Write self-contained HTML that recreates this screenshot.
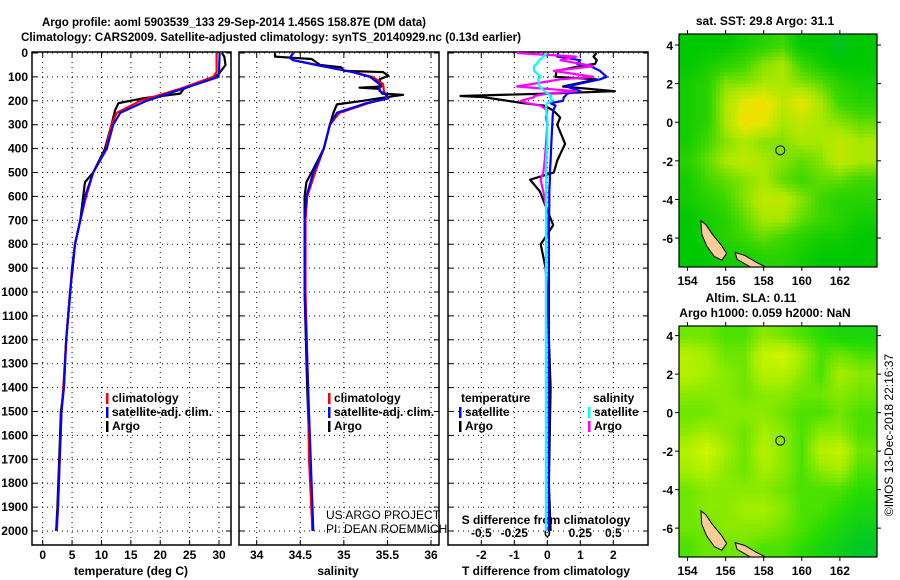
<!DOCTYPE html>
<html><head><meta charset="utf-8"><style>
body{margin:0;background:#fff;}
svg{display:block;font-family:"Liberation Sans",sans-serif;}
text{font-weight:bold;font-size:12px;fill:#000;}
</style></head><body>
<svg id="fig" width="900" height="580" viewBox="0 0 900 580">
<text x="42" y="26" font-size="14" textLength="384" lengthAdjust="spacingAndGlyphs">Argo profile: aoml 5903539_133 29-Sep-2014 1.456S 158.87E (DM data)</text>
<text x="21" y="41" font-size="14" textLength="500" lengthAdjust="spacingAndGlyphs">Climatology: CARS2009. Satellite-adjusted climatology: synTS_20140929.nc (0.13d earlier)</text>
<g id="g1"></g>
<g id="g2"></g>
<g id="g3"></g>
<g id="m1"></g>
<g id="m2"></g>
<text x="765" y="25" text-anchor="middle">sat. SST: 29.8 Argo: 31.1</text>
<text x="751" y="302" text-anchor="middle">Altim. SLA: 0.11</text>
<text x="765" y="317" text-anchor="middle">Argo h1000: 0.059 h2000: NaN</text>
<text transform="translate(893,435) rotate(-90)" text-anchor="middle" style="font-weight:normal" font-size="12">©IMOS 13-Dec-2018 22:16:37</text>
</svg>
<script>
// ---------- data ----------
const depthTicks=[0,100,200,300,400,500,600,700,800,900,1000,1100,1200,1300,1400,1500,1600,1700,1800,1900,2000];
const tTicks=[0,5,10,15,20,25,30];
const sTicks=[34,34.5,35,35.5,36];
const dTTicks=[-2,-1,0,1,2];
const dSTicks=[-0.5,-0.25,0,0.25,0.5];
const argoDepth=[0,15,50,90,100,150,170,190,200,210,240,300,400,500,540,600,700,800,900,1000,1200,1400,1500,1700,1900,2000];
const argoTemp=[30.5,30.9,31.1,29.9,29.0,24.0,23.4,17.0,14.9,12.9,12.3,11.7,10.6,8.6,7.2,6.9,6.4,5.5,5.1,4.65,4.0,3.6,3.1,2.8,2.5,2.3];
const climDepth=[0,80,100,150,200,250,300,400,500,600,700,800,900,1000,1200,1400,1500,1700,1900,2000];
const climTemp=[29.6,29.6,29.0,23.4,16.6,12.6,11.7,10.8,8.6,7.4,6.4,5.5,5.0,4.7,4.0,3.5,3.2,2.9,2.6,2.4];
const satTemp=[30.1,30.0,29.9,23.8,17.7,13.2,12.0,10.9,8.6,7.2,6.4,5.5,5.0,4.7,4.0,3.6,3.2,2.9,2.6,2.3];
const argoSDepth=[0,15,20,25,50,60,75,80,95,110,140,145,150,170,175,185,200,215,250,300,400,500,540,600,1000,1400,1800,2000];
const argoSal=[34.21,34.21,34.42,34.63,34.73,34.97,35.0,35.45,35.51,35.41,35.43,35.18,35.4,35.44,35.68,35.49,35.22,34.92,34.88,34.84,34.77,34.63,34.57,34.55,34.55,34.58,34.62,34.64];
const climSDepth=[0,20,30,50,80,100,130,160,175,190,210,250,300,400,500,600,700,1000,1400,1700,2000];
const climSal=[34.42,34.38,34.42,34.69,35.1,35.33,35.45,35.46,35.48,35.5,35.28,34.95,34.84,34.77,34.67,34.58,34.56,34.56,34.59,34.6,34.64];
const satSal=[34.42,34.38,34.42,34.69,35.1,35.3,35.41,35.41,35.49,35.51,35.26,34.92,34.84,34.77,34.65,34.57,34.55,34.55,34.59,34.62,34.65];
const dTDepth=[0,15,30,45,55,75,100,110,140,160,170,180,185,200,210,220,240,270,300,380,450,500,530,580,640,720,780,800,900,1000,1400,1800,2000];
const dTArgo=[1.49,1.4,1.5,1.45,1.0,0.28,0.25,1.5,0.48,2.05,0,-2.63,-1.93,-1.2,-0.73,-0.1,0.18,0.39,0.3,0.54,0.3,0.2,-0.52,-0.22,-0.05,0.18,-0.1,-0.2,-0.05,0.0,0.1,0.05,0.1];
const dTSat=[0.33,0.3,1.0,0.9,1.3,1.6,1.8,1.6,0.58,1.0,0.6,0.55,0.5,0.48,0.1,0.25,0.18,0.16,0.15,0.12,0.1,0.08,0.08,0.06,0.06,0.05,0.05,0.05,0.05,0.05,0.05,0.05,0.05];
const dSArgo=[-0.23,0.22,0.1,0.25,0.35,0.05,0.35,0.1,-0.23,0.22,0.0,-0.1,-0.1,-0.2,-0.15,-0.05,0,-0.01,0,-0.01,-0.02,-0.03,-0.05,-0.03,-0.01,0,-0.01,-0.01,-0.01,-0.01,-0.01,-0.01,-0.01];
const dSSat=[0,-0.03,-0.06,-0.08,-0.1,-0.1,-0.05,-0.07,-0.06,-0.02,0.0,0.03,0.02,0.04,0.0,-0.01,-0.01,0,0,0,-0.01,-0.01,-0.01,-0.01,-0.01,-0.01,-0.01,-0.01,-0.01,-0.01,-0.01,-0.01,-0.01];
const lonTicks=[154,156,158,160,162];
const latTicks=[4,2,0,-2,-4,-6];
const sstGrid=[
[.3,.3,.3,.35,.4,.45,.3,.3,.25,.3],
[.3,.35,.4,.45,.55,.6,.45,.35,.3,.3],
[.35,.4,.55,.55,.6,.6,.55,.5,.4,.35],
[.35,.4,.6,.75,.8,.65,.75,.6,.45,.4],
[.35,.4,.6,.8,.75,.6,.65,.6,.55,.5],
[.35,.45,.55,.6,.55,.55,.6,.6,.65,.6],
[.4,.5,.6,.65,.6,.55,.5,.55,.65,.6],
[.35,.45,.5,.55,.6,.5,.45,.5,.5,.45],
[.35,.4,.45,.55,.65,.65,.55,.45,.4,.4],
[.3,.35,.4,.5,.6,.6,.5,.45,.4,.35],
[.3,.35,.4,.45,.5,.45,.4,.35,.35,.3],
[.3,.3,.35,.35,.4,.4,.35,.3,.3,.3]];
const slaGrid=[
[.45,.45,.4,.4,.5,.45,.4,.35,.3,.3],
[.6,.55,.45,.45,.65,.7,.55,.4,.45,.4],
[.6,.55,.5,.45,.6,.6,.5,.4,.55,.5],
[.5,.5,.5,.45,.5,.5,.45,.45,.5,.45],
[.45,.45,.5,.5,.5,.45,.4,.4,.45,.4],
[.5,.55,.5,.45,.55,.5,.4,.5,.5,.4],
[.6,.7,.55,.45,.6,.5,.4,.6,.65,.45],
[.55,.6,.5,.45,.55,.5,.4,.5,.55,.4],
[.45,.5,.5,.5,.5,.45,.4,.4,.4,.35],
[.45,.5,.5,.55,.55,.5,.4,.4,.35,.3],
[.45,.45,.5,.5,.5,.45,.4,.35,.3,.25],
[.4,.45,.45,.45,.4,.4,.35,.3,.25,.2]];
const gridLon0=154, gridLat0=4;
const argoLon=158.87, argoLat=-1.456;
const island1=[[154.7,-5.1],[154.95,-5.3],[155.3,-5.8],[155.8,-6.4],[156.05,-6.8],[155.8,-7.15],[155.4,-6.95],[155.0,-6.4],[154.75,-5.8]];
const island2=[[156.5,-6.75],[157.0,-6.9],[157.6,-7.25],[158.1,-7.5],[157.3,-7.5],[156.6,-7.1]];

// ---------- helpers ----------
const NS="http://www.w3.org/2000/svg";
function mk(tag,parent,attrs){const e=document.createElementNS(NS,tag);for(const k in attrs)e.setAttribute(k,attrs[k]);parent.appendChild(e);return e;}
const yD=d=>53+d*0.239;
const TOP=52,BOT=545;
function lin(d0,d1,p0,p1){return v=>p0+(v-d0)*(p1-p0)/(d1-d0);}

function panel(g,x0,x1,xScale,ticks,labels,showDepth){
  const gr=mk('g',g,{stroke:'#000','stroke-width':1,'stroke-dasharray':'1,4'});
  ticks.forEach(t=>{const l=mk('line',gr,{x1:xScale(t),x2:xScale(t),y1:TOP,y2:BOT});
    
    });
  depthTicks.forEach(d=>{const l=mk('line',gr,{x1:x0,x2:x1,y1:yD(d),y2:yD(d)});
    
    });
  const fr=mk('rect',g,{x:x0,y:TOP,width:x1-x0,height:BOT-TOP,fill:'none',stroke:'#000','stroke-width':1.5});
  
  
  depthTicks.forEach(d=>{mk('line',g,{x1:x0,x2:x0+5,y1:yD(d),y2:yD(d),stroke:'#000'});mk('line',g,{x1:x1-5,x2:x1,y1:yD(d),y2:yD(d),stroke:'#000'});
    if(showDepth){const t=mk('text',g,{x:28,y:yD(d)+4,'text-anchor':'end'});t.textContent=d;
      
      }});
  ticks.forEach((v,i)=>{mk('line',g,{x1:xScale(v),x2:xScale(v),y1:TOP,y2:TOP+5,stroke:'#000'});mk('line',g,{x1:xScale(v),x2:xScale(v),y1:BOT-5,y2:BOT,stroke:'#000'});
    if(labels){const t=mk('text',g,{x:xScale(v),y:BOT+14,'text-anchor':'middle'});t.textContent=labels[i];
      
      }});
}
function line(g,xs,ds,xScale,color,name,w){
  const pts=xs.map((v,i)=>xScale(v).toFixed(1)+','+yD(ds[i]).toFixed(1)).join(' ');
  const p=mk('polyline',g,{points:pts,fill:'none',stroke:color,'stroke-width':w||2.2,'stroke-linejoin':'round'});
  
  
}
function legend(g,x,y,items){
  items.forEach((it,i)=>{mk('rect',g,{x:x,y:y+i*14-9,width:2.5,height:11,fill:it[1]});
    const t=mk('text',g,{x:x+6,y:y+i*14});t.textContent=it[0];
    
    });
}
function txt(g,x,y,s,name,anchor){const t=mk('text',g,{x:x,y:y,'text-anchor':anchor||'middle'});t.textContent=s;
  
  return t;}

// ---------- panel 1 ----------
const g1=document.getElementById('g1');
const xT=lin(0,30,42.7,219);
panel(g1,32,231,xT,tTicks,tTicks,true);
line(g1,argoTemp,argoDepth,xT,'#000','argo-temperature-line');
line(g1,climTemp,climDepth,xT,'#f00','climatology-temperature-line');
line(g1,satTemp,climDepth,xT,'#00f','satellite-temperature-line');
legend(g1,106,402,[['climatology','#f00'],['satellite-adj. clim.','#00f'],['Argo','#000']]);
txt(g1,131,575,'temperature (deg C)','x-axis-title-temperature');

// ---------- panel 2 ----------
const g2=document.getElementById('g2');
const xS=lin(34,36,256.7,431);
panel(g2,239,439,xS,sTicks,sTicks,false);
line(g2,argoSal,argoSDepth,xS,'#000','argo-salinity-line');
line(g2,climSal,climSDepth,xS,'#f00','climatology-salinity-line');
line(g2,satSal,climSDepth,xS,'#00f','satellite-salinity-line');
legend(g2,328,402,[['climatology','#f00'],['satellite-adj. clim.','#00f'],['Argo','#000']]);
txt(g2,338,575,'salinity','x-axis-title-salinity');
const c1=txt(g2,326,519,'US ARGO PROJECT','credit-project','start');c1.style.fontWeight='normal';
const c2=txt(g2,326,533,'PI: DEAN ROEMMICH','credit-pi','start');c2.style.fontWeight='normal';

// ---------- panel 3 ----------
const g3=document.getElementById('g3');
const xDT=lin(0,2,547.3,613.3);
const xDS=lin(0,0.5,547.3,613.3);
panel(g3,448,648,xDT,dTTicks,dTTicks,false);
dSTicks.forEach(v=>{txt(g3,xDS(v),537,String(v),'s-diff-tick-label');});
txt(g3,546,524,'S difference from climatology','s-diff-axis-title');
txt(g3,546,575,'T difference from climatology','t-diff-axis-title');
line(g3,dTArgo,dTDepth,xDT,'#000','argo-t-diff-line');
line(g3,dTSat,dTDepth,xDT,'#00f','satellite-t-diff-line');
line(g3,dSArgo,dTDepth,xDS,'#f0f','argo-s-diff-line');
line(g3,dSSat,dTDepth,xDS,'#0ff','satellite-s-diff-line');
txt(g3,461,402,'temperature','legend-title-temperature','start');
legend(g3,459,416,[['satellite','#00f'],['Argo','#000']]);
txt(g3,593,402,'salinity','legend-title-salinity','start');
legend(g3,588,416,[['satellite','#0ff'],['Argo','#f0f']]);

// ---------- maps ----------
const stops=[[0,[0,176,176]],[0.3,[0,200,0]],[0.45,[60,215,0]],[0.6,[170,232,0]],[0.75,[230,230,0]],[0.85,[255,210,0]],[1,[255,140,0]]];
const slaStops=[[0.2,[0,200,40]],[0.35,[40,220,0]],[0.45,[110,230,0]],[0.55,[165,238,0]],[0.7,[210,245,0]]];
function cmap(v,st){if(v<=st[0][0])return 'rgb('+st[0][1]+')';
  for(let i=1;i<st.length;i++){if(v<=st[i][0]){const a=st[i-1],b=st[i],f=(v-a[0])/(b[0]-a[0]);
    return 'rgb('+a[1].map((c,j)=>Math.round(c+(b[1][j]-c)*f)).join(',')+')';}}
  return 'rgb('+st[st.length-1][1]+')';}
function sample(grid,lon,lat){
  let c=(lon-gridLon0),r=(gridLat0-lat);
  c=Math.max(0,Math.min(grid[0].length-1.001,c));r=Math.max(0,Math.min(grid.length-1.001,r));
  const c0=Math.floor(c),r0=Math.floor(r),fc=c-c0,fr=r-r0;
  return grid[r0][c0]*(1-fc)*(1-fr)+grid[r0][c0+1]*fc*(1-fr)+grid[r0+1][c0]*(1-fc)*fr+grid[r0+1][c0+1]*fc*fr;}
function map(g,top,bot,grid,st,step,name){
  const x0=679,x1=877;
  const xL=lin(153.55,163.95,x0,x1), yL=lin(4+(top===34?0.57:0.5),-7.5,top,bot);
  const cells=mk('g',g,{});
  
  
  for(let lat=4.6;lat>-7.6;lat-=step){for(let lon=153.5;lon<164;lon+=step){
    const v=sample(grid,lon+step/2,lat-step/2);
    const xa=Math.max(x0,xL(lon)),xb=Math.min(x1,xL(lon+step)),ya=Math.max(top,yL(lat)),yb=Math.min(bot,yL(lat-step));
    if(xb<=xa||yb<=ya)continue;
    mk('rect',cells,{x:xa.toFixed(2),y:ya.toFixed(2),width:(xb-xa+0.4).toFixed(2),height:(yb-ya+0.4).toFixed(2),fill:cmap(v,st)});}}
  [island1,island2].forEach(isl=>{const p=mk('polygon',g,{points:isl.map(q=>xL(q[0]).toFixed(1)+','+yL(q[1]).toFixed(1)).join(' '),fill:'#ffcc99',stroke:'#000','stroke-width':1});
    
    });
  const c=mk('circle',g,{cx:xL(argoLon),cy:yL(argoLat),r:4.5,fill:'none',stroke:'#000','stroke-width':1});
  
  
  const fr=mk('rect',g,{x:x0,y:top,width:x1-x0,height:bot-top,fill:'none',stroke:'#000','stroke-width':1.2});
  
  
  lonTicks.forEach(v=>{mk('line',g,{x1:xL(v),x2:xL(v),y1:bot,y2:bot+4,stroke:'#000'});mk('line',g,{x1:xL(v),x2:xL(v),y1:top-4,y2:top,stroke:'#000'});
    txt(g,xL(v),bot+18,String(v),'lon-tick-label').setAttribute('font-size','13');});
  latTicks.forEach(v=>{mk('line',g,{x1:x0-4,x2:x0,y1:yL(v),y2:yL(v),stroke:'#000'});mk('line',g,{x1:x1,x2:x1+4,y1:yL(v),y2:yL(v),stroke:'#000'});
    txt(g,x0-6,yL(v)+5,String(v),'lat-tick-label','end').setAttribute('font-size','13');});
}
map(document.getElementById('m1'),34,267,sstGrid,stops,0.2,'sst');
map(document.getElementById('m2'),326,557,slaGrid,slaStops,0.2,'sla');
</script>
</body></html>
